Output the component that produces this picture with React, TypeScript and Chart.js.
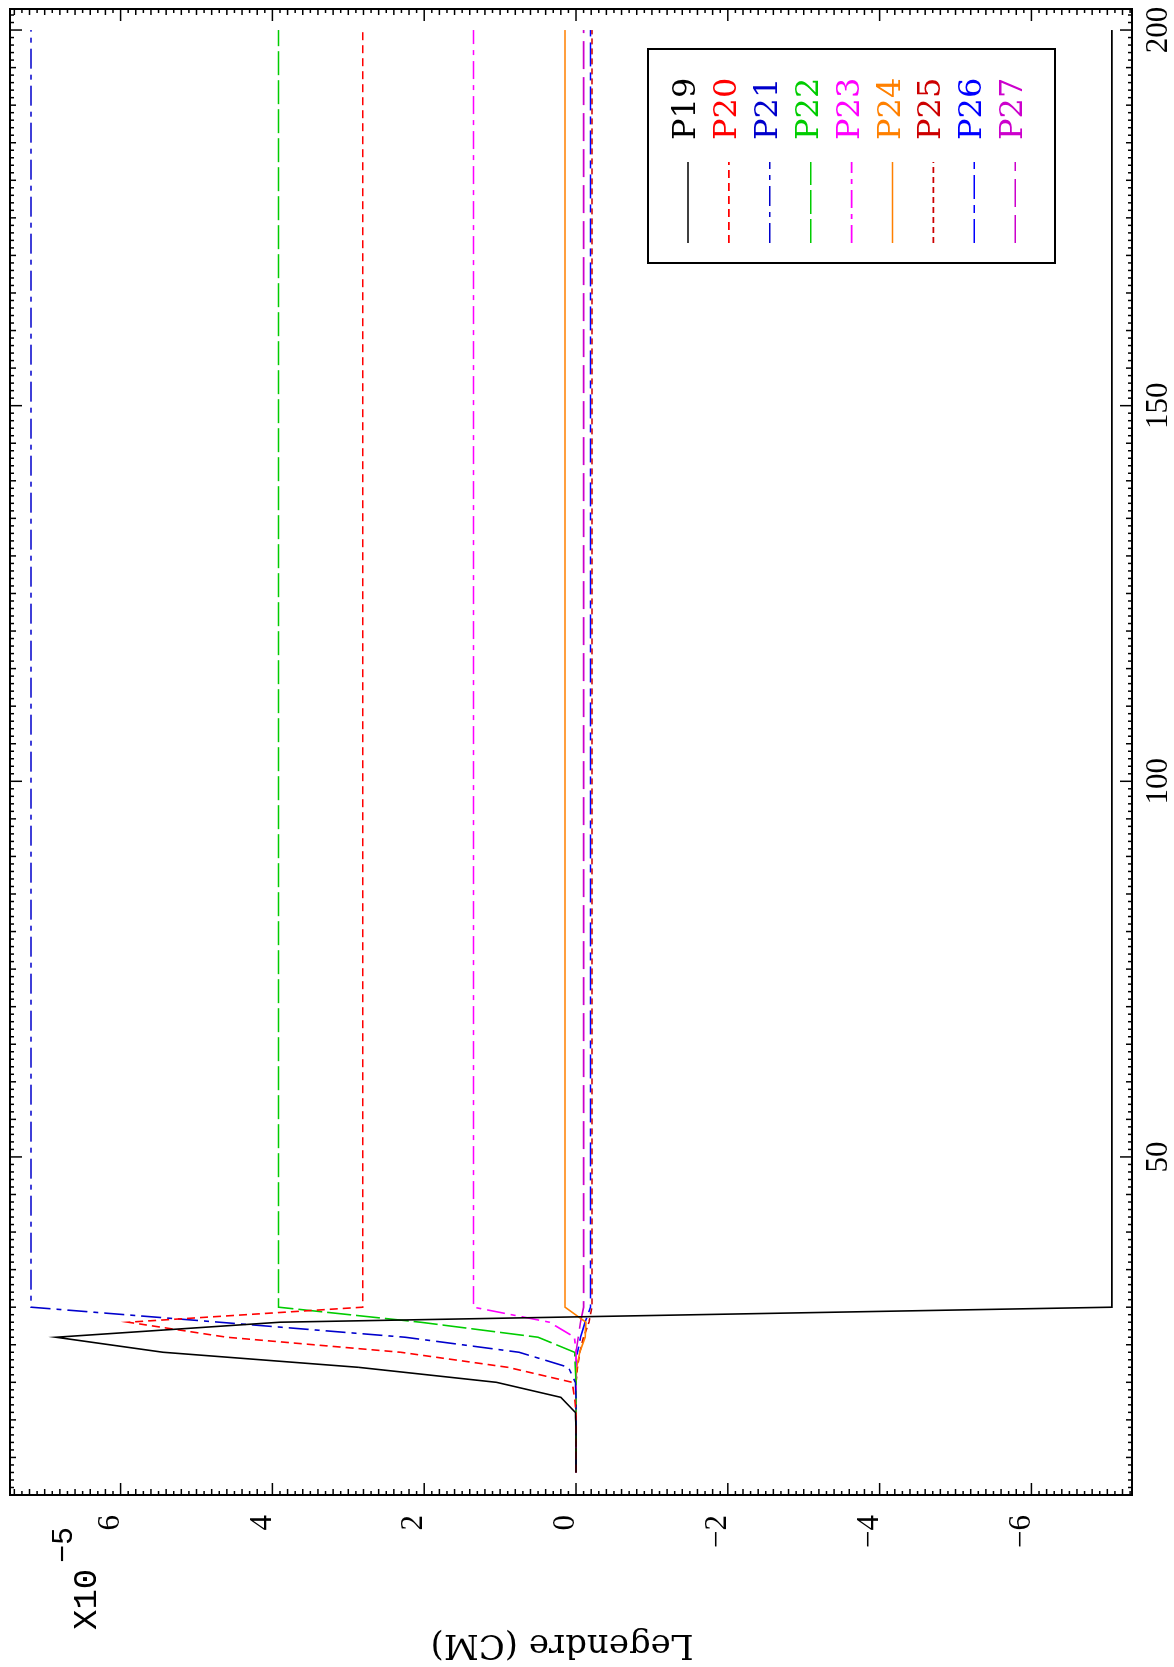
import React, { useEffect, useRef } from 'react';
import { Chart, registerables } from 'chart.js';

Chart.register(...registerables);

// time steps (horizontal axis of the original, landscape plot)
const STEPS = [8, 10, 12, 14, 16, 18, 20, 22, 24, 26, 28, 30, 200];

// series values (x 1e-5 cm)
const P19 = [0, 0, 0, 0, 0.01, 0.2, 1.05, 2.87, 5.44, 6.85, 3.9, -7.06, -7.06];
const P20 = [0, 0, 0, 0, 0, 0.02, 0.05, 0.9, 2.31, 4.6, 5.9, 2.81, 2.81];
const P21 = [0, 0, 0, 0, 0, 0, 0.01, 0.1, 0.75, 2.25, 4.7, 7.18, 7.18];
const P22 = [0, 0, 0, 0, 0, 0, 0, 0.01, 0.02, 0.5, 2.05, 3.92, 3.92];
const P23 = [0, 0, 0, 0, 0, 0, 0, 0, 0, 0.02, 0.35, 1.35, 1.35];
const P24 = [0, 0, 0, 0, 0, 0, 0, -0.01, -0.05, -0.12, -0.13, 0.145, 0.145];
const P25 = [0, 0, 0, 0, 0, 0, 0, -0.02, -0.05, -0.1, -0.17, -0.21, -0.21];
const P26 = [0, 0, 0, 0, 0, 0, 0, 0, -0.02, -0.06, -0.12, -0.19, -0.19];
const P27 = [0, 0, 0, 0, 0, 0, 0, 0, 0, -0.03, -0.06, -0.1, -0.1];

const SERIES_NAMES = ['P19', 'P20', 'P21', 'P22', 'P23', 'P24', 'P25', 'P26', 'P27'];
const SERIES_VALUES = [P19, P20, P21, P22, P23, P24, P25, P26, P27];
const SERIES_COLORS = ['#000000', '#FF0000', '#0000CC', '#00CC00', '#FF00FF', '#FF8000', '#CC0000', '#0000FF', '#CC00CC'];
const SERIES_DASHES: number[][] = [[], [8, 5], [20, 6, 5, 6], [24, 5], [18, 6, 5, 6], [], [6, 4], [24, 6, 8, 6], [28, 8]];

const X_TICKS = [50, 100, 150, 200];
const Y_TICKS = [-6, -4, -2, 0, 2, 4, 6];
const X_MIN = 5.0;
const X_MAX = 202.8;
const Y_MIN = -7.325;
const Y_MAX = 7.457;

const Y_TITLE = 'Legendre (CM)';
const Y_MULT = 'X10';
const Y_MULT_EXP = '\u22125';

const W = 1667;
const H = 1174;

const framePlugin = {
  id: 'frame',
  afterDraw(chart: any) {
    const { ctx, chartArea: a, scales } = chart;
    const x = scales.x;
    const y = scales.y;
    ctx.save();
    ctx.strokeStyle = '#000';
    ctx.lineWidth = 2;
    ctx.strokeRect(a.left, a.top, a.right - a.left, a.bottom - a.top);
    ctx.lineWidth = 1.5;
    const seg = (x1: number, y1: number, x2: number, y2: number) => {
      ctx.beginPath();
      ctx.moveTo(x1, y1);
      ctx.lineTo(x2, y2);
      ctx.stroke();
    };
    for (let t = Math.ceil(X_MIN); t <= X_MAX; t++) {
      const px = x.getPixelForValue(t);
      const len = t % 50 === 0 ? 12 : t % 5 === 0 ? 6 : 4;
      seg(px, a.bottom, px, a.bottom - len);
      seg(px, a.top, px, a.top + len);
    }
    for (let k = Math.ceil(Y_MIN * 10); k <= Math.floor(Y_MAX * 10); k++) {
      const py = y.getPixelForValue(k / 10);
      const len = k % 20 === 0 ? 12 : k % 2 === 0 ? 6 : 4;
      seg(a.left, py, a.left + len, py);
      seg(a.right, py, a.right - len, py);
    }

    // axis title and multiplier
    ctx.fillStyle = '#000';
    ctx.font = '34px "DejaVu Serif"';
    ctx.textAlign = 'center';
    ctx.textBaseline = 'alphabetic';
    ctx.save();
    ctx.translate(32, 562);
    ctx.rotate(-Math.PI / 2);
    ctx.fillText(Y_TITLE, 0, 0);
    ctx.restore();
    ctx.textAlign = 'left';
    ctx.font = '34px "Liberation Mono"';
    ctx.fillText(Y_MULT, 37, 96);
    ctx.font = '30px "Liberation Mono"';
    ctx.fillText(Y_MULT_EXP, 104, 72);

    // legend
    const lg = { left: 1404, top: 648, right: 1618, bottom: 1055 };
    ctx.lineWidth = 2;
    ctx.setLineDash([]);
    ctx.strokeRect(lg.left, lg.top, lg.right - lg.left, lg.bottom - lg.top);
    ctx.font = '32px "DejaVu Serif"';
    chart.data.datasets.forEach((ds: any, i: number) => {
      const yy = 688 + 40.9 * i;
      ctx.strokeStyle = ds.borderColor;
      ctx.lineWidth = 1.6;
      ctx.setLineDash(ds.borderDash || []);
      seg(1424, yy, 1505, yy);
      ctx.setLineDash([]);
      ctx.fillStyle = ds.borderColor;
      ctx.fillText(ds.label, 1527, yy + 7);
    });
    ctx.restore();
  },
};

export default function App() {
  const ref = useRef<HTMLCanvasElement | null>(null);
  useEffect(() => {
    if (!ref.current) return;
    const chart = new Chart(ref.current, {
      type: 'line',
      data: {
        datasets: SERIES_NAMES.map((name, i) => ({
          label: name,
          data: STEPS.map((t, j) => ({ x: t, y: SERIES_VALUES[i][j] })),
          borderColor: SERIES_COLORS[i],
          backgroundColor: SERIES_COLORS[i],
          borderDash: SERIES_DASHES[i],
          borderWidth: 1.6,
          pointRadius: 0,
          tension: 0,
          fill: false,
        })),
      },
      options: {
        animation: false,
        responsive: false,
        devicePixelRatio: 1,
        layout: { padding: { left: 0, right: 9, top: 10, bottom: 0 } },
        plugins: { legend: { display: false }, tooltip: { enabled: false }, title: { display: false } },
        scales: {
          x: {
            type: 'linear',
            min: X_MIN,
            max: X_MAX,
            grid: { display: false, drawTicks: false },
            border: { display: false },
            afterBuildTicks: (s: any) => {
              s.ticks = X_TICKS.map((v) => ({ value: v }));
            },
            afterFit: (s: any) => {
              s.height = 42;
              s.paddingLeft = 0;
              s.paddingRight = 0;
            },
            ticks: {
              color: '#000',
              padding: 8,
              maxRotation: 0,
              minRotation: 0,
              font: { family: '"Liberation Serif"', size: 31 },
              callback: (v: any) => String(v),
            },
          },
          y: {
            type: 'linear',
            min: Y_MIN,
            max: Y_MAX,
            grid: { display: false, drawTicks: false },
            border: { display: false },
            afterBuildTicks: (s: any) => {
              s.ticks = Y_TICKS.map((v) => ({ value: v }));
            },
            afterFit: (s: any) => {
              s.width = 172;
              s.paddingTop = 0;
              s.paddingBottom = 0;
            },
            ticks: {
              color: '#000',
              padding: 20,
              labelOffset: -10,
              font: { family: '"Liberation Serif"', size: 31 },
              callback: (v: any) => (v < 0 ? '\u2212' + Math.abs(v) : String(v)),
            },
          },
        },
      },
      plugins: [framePlugin],
    } as any);
    return () => chart.destroy();
  }, []);

  return (
    <div style={{ position: 'fixed', left: 0, top: 0, width: H, height: W, overflow: 'hidden', background: '#fff' }}>
      <div
        style={{
          position: 'absolute',
          left: 0,
          top: 0,
          width: W,
          height: H,
          transformOrigin: 'top left',
          transform: `translateY(${W}px) rotate(-90deg)`,
        }}
      >
        <canvas ref={ref} width={W} height={H} style={{ display: 'block', width: W, height: H }} />
      </div>
    </div>
  );
}
